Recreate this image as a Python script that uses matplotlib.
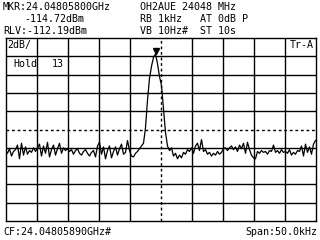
import numpy as np
import matplotlib
matplotlib.use("Agg")
import matplotlib.pyplot as plt

# Trace data (dB relative to top graticule line), 156 sweep points over the span
span_khz = 50.0
noise_left = [
    -12.3, -12.6, -12.1, -12.9, -12.4, -12.2, -11.7, -13.2, -11.5, -12.8, -11.9, -12.7, -12.3, -12.5, -12.0, -12.4,
    -12.0, -11.6, -12.9, -11.8, -12.6, -11.4, -13.0, -12.2, -11.7, -12.8, -12.1, -11.5, -12.6, -12.0, -12.3, -12.1,
    -12.4, -12.2, -12.7, -12.3, -12.1, -12.6, -12.8, -12.4, -12.2, -12.6, -12.9, -12.5, -12.3, -13.0, -11.8, -11.4,
    -12.7, -11.9, -13.2, -12.3, -11.8, -13.1, -12.4, -11.9, -12.8, -12.1, -11.6, -12.7, -12.5, -11.2, -12.3, -12.9,
    -13.0, -12.6, -12.4, -12.1,
]
peak = [-11.8, -11.5, -9.8, -6.8, -4.4, -3.1, -2.1, -1.75, -2.8, -4.2, -5.2, -7.7, -10.3, -11.8, -12.3]
noise_right = [
    -12.0, -12.9, -12.6, -13.2, -12.8, -13.1, -12.5, -12.7, -12.2, -12.4,
    -12.0, -12.6, -11.8, -11.5, -12.3, -11.1, -12.4, -12.2, -12.7, -12.5, -12.9, -12.6, -12.8, -12.4, -12.7, -12.5,
    -12.1, -12.0, -12.3, -12.0, -11.8, -12.2, -11.9, -12.4, -11.7, -12.1, -11.5, -12.6, -11.4, -12.2, -12.8, -13.1,
    -13.2, -12.4, -12.6, -12.3, -12.5, -12.4, -12.7, -12.3, -12.4, -11.7, -12.5, -12.3, -12.6, -12.2, -12.5, -12.4,
    -12.6, -12.2, -12.8, -12.5, -12.7, -12.3, -12.4, -11.8, -12.9, -11.6, -12.5, -11.9, -12.7, -11.6, -11.2,
]
trace = np.array(noise_left + peak + noise_right)
freq = np.linspace(-span_khz / 2, span_khz / 2, len(trace))

header = [
    ("MKR:24.04805800GHz", 3, 7),
    ("-114.72dBm", 24, 19),
    ("RLV:-112.19dBm", 3, 31),
    ("OH2AUE 24048 MHz", 140, 7),
    ("RB 1kHz", 140, 19),
    ("AT 0dB P", 200, 19),
    ("VB 10Hz#", 140, 31),
    ("ST 10s", 200, 31),
]

W, H = 320, 240
fig = plt.figure(figsize=(W / 100, H / 100), dpi=100)
fig.patch.set_facecolor("white")

# graticule box in pixels: left 5.5, right 315.5, top 38, bottom 221
ax = fig.add_axes([5.5 / W, 1 - 221 / H, 310 / W, 183 / H])
ax.set_xlim(-span_khz / 2, span_khz / 2)
ax.set_ylim(-20, 0)
ax.set_xticks([])
ax.set_yticks([])
for s in ax.spines.values():
    s.set_linewidth(1.0)
    s.set_color("black")

for xv in np.arange(-20, 25, 5):
    ax.axvline(xv, color="black", lw=1.0, ls=(0, (2, 2)) if xv == 0 else "-")
for yv in np.arange(-18, 0, 2):
    ax.axhline(yv, color="black", lw=1.0, ls=(0, (2, 2)) if yv == -10 else "-")

ax.plot(freq, trace, color="black", lw=0.9)

# marker at trace maximum
im = int(np.argmax(trace))
ax.plot(freq[im], trace[im] + 0.3, marker="v", color="black", ms=4.5)

mono = "DejaVu Sans Mono"
fs = 7.2
for txt, x, y in header:
    fig.text(x / W, 1 - y / H, txt, family=mono, fontsize=fs, va="center", ha="left")

fig.text(7 / W, 1 - 45 / H, "2dB/", family=mono, fontsize=fs, va="center")
fig.text(13 / W, 1 - 64 / H, "Hold", family=mono, fontsize=fs, va="center")
fig.text(64 / W, 1 - 64 / H, "13", family=mono, fontsize=fs, va="center", ha="right")
fig.text(314 / W, 1 - 45 / H, "Tr-A", family=mono, fontsize=fs, va="center", ha="right")
fig.text(3 / W, 1 - 232 / H, "CF:24.04805890GHz#", family=mono, fontsize=fs, va="center")
fig.text(317 / W, 1 - 232 / H, "Span:50.0kHz", family=mono, fontsize=fs, va="center", ha="right")

fig.savefig("out.png", dpi=100)
